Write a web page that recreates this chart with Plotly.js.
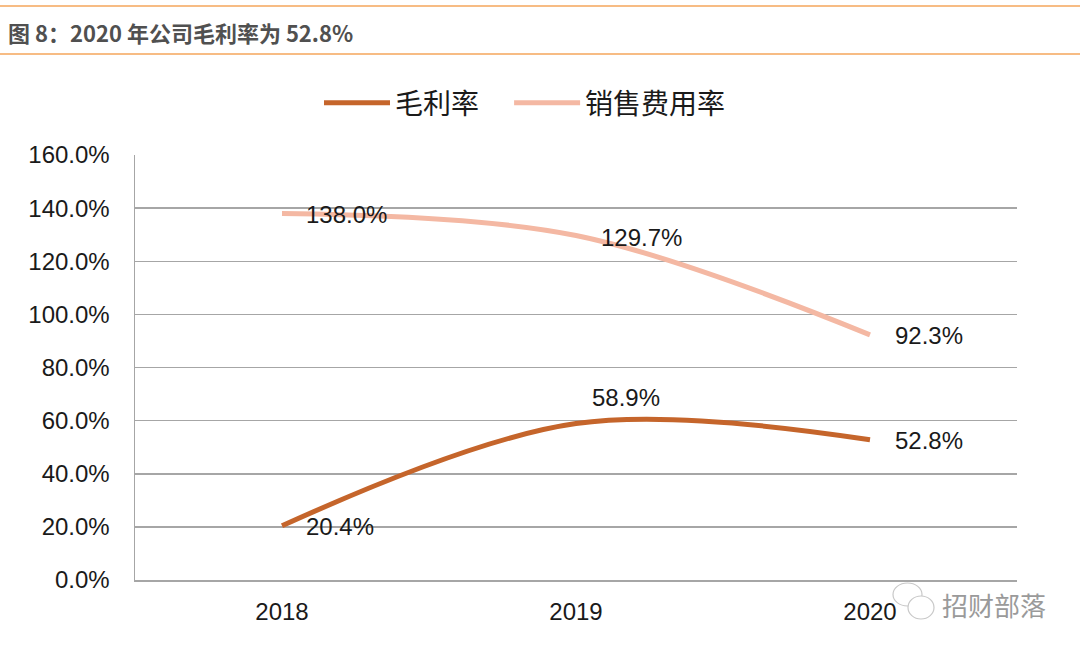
<!DOCTYPE html>
<html><head><meta charset="utf-8">
<script src="https://cdn.plot.ly/plotly-3.0.1.min.js"></script>
<style>html,body{margin:0;padding:0;background:#fff;}#chart{width:1080px;height:654px;}</style>
</head><body><div id="chart"></div>
<script>
var years = ['2018', '2019', '2020'];
var grossMargin = [20.4, 58.9, 52.8];
var salesExpenseRate = [138.0, 129.7, 92.3];
var yTicks = [0, 20, 40, 60, 80, 100, 120, 140, 160];

var W = 1080, H = 654, L = 135, R = 63, T = 155, B = 74;
var pw = W - L - R, ph = H - T - B;
function px(x){ return (x - L) / pw; }
function py(y){ return (H - B - y) / ph; }

var numFont = {family: 'Liberation Sans, Arial, sans-serif', size: 24, color: '#1a1a1a'};

var traces = [
  {x: years, y: grossMargin, name: '毛利率\u00a0\u00a0\u00a0\u00a0', type: 'scatter', mode: 'lines',
   line: {color: '#C5652B', width: 5, shape: 'spline', smoothing: 1}},
  {x: years, y: salesExpenseRate, name: '销售费用率', type: 'scatter', mode: 'lines',
   line: {color: '#F4B8A3', width: 5, shape: 'spline', smoothing: 1}}
];

var annotations = [];
function lbl(i, arr, dx, dy, anchor){
  annotations.push({x: i, y: arr[i], xref: 'x', yref: 'y', text: arr[i].toFixed(1) + '%', showarrow: false,
    xanchor: anchor, yanchor: 'middle', xshift: dx, yshift: dy, font: numFont});
}
lbl(0, salesExpenseRate, 22, -1, 'left');
lbl(1, salesExpenseRate, 23, -2, 'left');
lbl(2, salesExpenseRate, 23, -1, 'left');
lbl(0, grossMargin, 22, -1, 'left');
lbl(1, grossMargin, 50, 26, 'center');
lbl(2, grossMargin, 23, -1, 'left');

annotations.push({xref: 'paper', yref: 'paper', x: px(6), y: py(32), xanchor: 'left', yanchor: 'middle',
  showarrow: false, text: '<b>图 8：2020 年公司毛利率为 52.8%</b>',
  font: {family: 'Noto Sans CJK SC, sans-serif', size: 22, color: '#505050'}});
annotations.push({xref: 'paper', yref: 'paper', x: px(940), y: py(604), xanchor: 'left', yanchor: 'middle',
  showarrow: false, text: '招财部落',
  font: {family: 'Noto Sans CJK SC, sans-serif', size: 26, color: '#9a9a9a'}});

var layout = {
  width: W, height: H,
  margin: {l: L, r: R, t: T, b: B},
  paper_bgcolor: '#ffffff', plot_bgcolor: '#ffffff',
  showlegend: true,
  legend: {orientation: 'h', x: px(525), y: py(103), xanchor: 'center', yanchor: 'middle',
    font: {family: 'Noto Sans CJK SC, sans-serif', size: 28, color: '#1a1a1a'},
    itemwidth: 66, tracegroupgap: 0},
  xaxis: {type: 'category', range: [-0.5, 2.5], showgrid: false, showline: true,
    linecolor: '#a6a6a6', linewidth: 1.5, ticks: '', tickfont: numFont, zeroline: false,
    ticklabelstandoff: 10, fixedrange: true},
  yaxis: {range: [0, 160], tickvals: yTicks, ticktext: yTicks.map(function(v){return v.toFixed(1) + '%';}),
    showgrid: true, gridcolor: '#a6a6a6', gridwidth: 1.5, showline: true, linecolor: '#a6a6a6', linewidth: 1.5,
    ticks: '', tickfont: numFont, zeroline: false, ticklabelstandoff: 19},
  shapes: [
    {type: 'line', xref: 'paper', yref: 'paper', x0: px(0), x1: px(1080), y0: py(6), y1: py(6),
     line: {color: '#F5A65B', width: 1.5}},
    {type: 'line', xref: 'paper', yref: 'paper', x0: px(0), x1: px(1080), y0: py(54), y1: py(54),
     line: {color: '#F5A65B', width: 1.5}},
    {type: 'circle', xref: 'paper', yref: 'paper', x0: px(893), x1: px(922), y0: py(583), y1: py(606),
     fillcolor: '#ffffff', line: {color: '#c8c8c8', width: 1.2}},
    {type: 'circle', xref: 'paper', yref: 'paper', x0: px(908), x1: px(934), y0: py(596), y1: py(619),
     fillcolor: '#ffffff', line: {color: '#c8c8c8', width: 1.2}}
  ],
  annotations: annotations
};

Plotly.newPlot('chart', traces, layout, {displayModeBar: false, staticPlot: true});
</script></body></html>
